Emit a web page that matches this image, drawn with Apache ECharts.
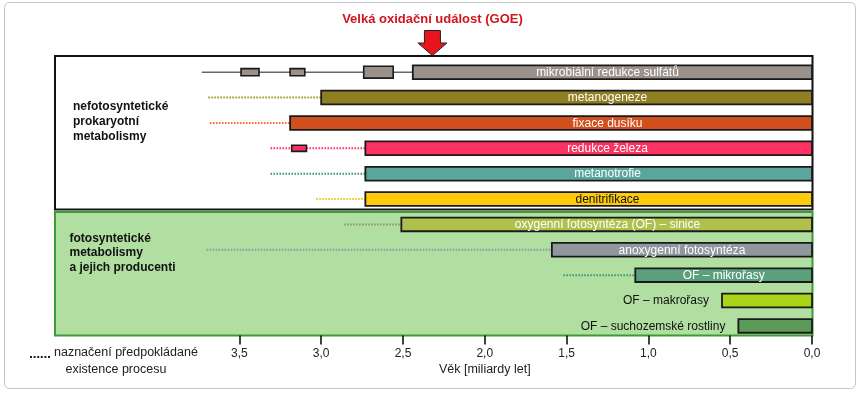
<!DOCTYPE html>
<html><head><meta charset="utf-8">
<script src="https://cdn.jsdelivr.net/npm/echarts@6/dist/echarts.min.js"></script>
<style>html,body{margin:0;padding:0;background:#fff}#c{width:860px;height:393px}</style>
</head><body><div id="c"></div>
<script>
// ---- data ----
const categories = ['mikrobiální redukce sulfátů','metanogeneze','fixace dusíku','redukce železa','metanotrofie','denitrifikace','oxygenní fotosyntéza (OF) – sinice','anoxygenní fotosyntéza','OF – mikrořasy','OF – makrořasy','OF – suchozemské rostliny'];
const barStart = [2.44, 3.0, 3.19, 2.73, 2.73, 2.73, 2.51, 1.59, 1.08, 0.55, 0.45];
const dottedFrom = [null, 3.69, 3.68, 3.31, 3.31, 3.03, 2.86, 3.70, 1.52, null, null];
const sulfateLineFrom = 3.73;
const sulfateBoxes = [[3.49, 3.38], [3.19, 3.10], [2.74, 2.56]];
const ironBox = [3.18, 3.09];
const GOE = 2.32;
const tickValues = [0, 0.5, 1, 1.5, 2, 2.5, 3, 3.5];
const axisMax = 4.627;
const groupTop = ['nefotosyntetické', 'prokaryotní', 'metabolismy'];
const groupBottom = ['fotosyntetické', 'metabolismy', 'a jejich producenti'];
const titleText = 'Velká oxidační událost (GOE)';
const axisTitle = 'Věk [miliardy let]';
const legendLines = ['naznačení předpokládané', 'existence procesu'];

// ---- styles ----
const barColors = ['#9a918b','#907e22','#d14f1c','#fc3262','#5ca59d','#fdcb0b','#afc14c','#8e989d','#5b9f7c','#a9d417','#5b9b57'];
const dotColors = [null,'#a09a2a','#ff6a33','#ff3366','#3c9a6c','#f8c81a','#8c9a5a','#8d9aa0','#3d9b6f',null,null];
const labelColors = ['#fff','#fff','#fff','#fff','#fff','#111','#fff','#fff','#fff','#111','#111'];
const labelMode = ['fixed','fixed','fixed','fixed','fixed','fixed','fixed','center','center','left','left'];
const LABEL_CENTER_VALUE = 1.25;
const SANS = "'Liberation Sans', Arial, sans-serif";

const chart = echarts.init(document.getElementById('c'), null, {renderer: 'canvas'});

const sulfateBoxHeights = [0.28, 0.28, 0.47];

chart.setOption({
  animation: false,
  grid: {left: 55, right: 48, top: 59.5, bottom: 54.4},
  xAxis: {
    type: 'value', min: 0, max: axisMax, inverse: true, position: 'bottom', offset: -3,
    axisLine: {show: false}, splitLine: {show: false},
    axisTick: {show: true, customValues: tickValues, length: 9, lineStyle: {color: '#111', width: 1.6}},
    axisLabel: {customValues: tickValues, formatter: v => v.toFixed(1).replace('.', ','), margin: 12,
      fontSize: 12, color: '#222', fontFamily: SANS}
  },
  yAxis: {type: 'category', data: categories, inverse: true, show: false},
  series: [
    { // dotted extensions
      type: 'custom', z: 3,
      data: categories.map((c, i) => [dottedFrom[i] == null ? barStart[i] : dottedFrom[i], i, barStart[i]]),
      encode: {x: 0, y: 1},
      renderItem(params, api) {
        const i = params.dataIndex;
        if (dottedFrom[i] == null) return null;
        const a = api.coord([api.value(0), api.value(1)]);
        const b = api.coord([api.value(2), api.value(1)]);
        return {type: 'line', shape: {x1: a[0], y1: a[1], x2: b[0], y2: b[1]},
          style: {stroke: dotColors[i], lineWidth: 2, lineDash: [1.6, 1.4]}};
      }
    },
    { // sulfate thin line
      type: 'custom', z: 3,
      data: [[sulfateLineFrom, 0, barStart[0]]],
      encode: {x: 0, y: 1},
      renderItem(params, api) {
        const a = api.coord([api.value(0), api.value(1)]);
        const b = api.coord([api.value(2), api.value(1)]);
        return {type: 'line', shape: {x1: a[0], y1: a[1], x2: b[0], y2: b[1]},
          style: {stroke: '#666', lineWidth: 1.5}};
      }
    },
    { // small range boxes
      type: 'custom', z: 4,
      data: sulfateBoxes.map(b => [b[0], 0, b[1]]).concat([[ironBox[0], 3, ironBox[1]]]),
      encode: {x: 0, y: 1},
      renderItem(params, api) {
        const i = params.dataIndex;
        const a = api.coord([api.value(0), api.value(1)]);
        const b = api.coord([api.value(2), api.value(1)]);
        const band = api.size([0, 1])[1];
        const isIron = i === 3;
        const h = band * (isIron ? 0.24 : sulfateBoxHeights[i]);
        return {type: 'rect', shape: {x: a[0], y: a[1] - h / 2, width: b[0] - a[0], height: h},
          style: {fill: isIron ? barColors[3] : barColors[0], stroke: '#1a1a1a', lineWidth: 1.6}};
      }
    },
    { // main bars
      type: 'custom', z: 5,
      data: categories.map((c, i) => [barStart[i], i]),
      encode: {x: 0, y: 1},
      renderItem(params, api) {
        const i = params.dataIndex;
        const row = api.value(1);
        const s = api.coord([api.value(0), row]);
        const e = api.coord([0, row]);
        const band = api.size([0, 1])[1];
        const h = band * 0.54;
        let tx, align = 'center';
        if (labelMode[i] === 'fixed') tx = api.coord([LABEL_CENTER_VALUE, row])[0];
        else if (labelMode[i] === 'center') tx = (s[0] + e[0]) / 2;
        else { tx = s[0] - 13; align = 'right'; }
        return {type: 'group', children: [
          {type: 'rect', shape: {x: s[0], y: s[1] - h / 2, width: e[0] - s[0], height: h},
            style: {fill: barColors[i], stroke: '#1a1a1a', lineWidth: 1.8}},
          {type: 'text', style: {text: categories[i], x: tx, y: s[1] + 0.5, align: align, verticalAlign: 'middle',
            fill: labelColors[i], font: '12px ' + SANS}}
        ]};
      }
    }
  ]
});

const gx = chart.convertToPixel({xAxisIndex: 0}, GOE);
const mid = chart.convertToPixel({xAxisIndex: 0}, 2.0);
const x0 = chart.convertToPixel({xAxisIndex: 0}, 0);
const xL = chart.convertToPixel({xAxisIndex: 0}, axisMax);

const textLines = (lines, x, y0, lh, font, fill) => lines.map((t, k) => ({
  type: 'text', silent: true, z: 10,
  style: {text: t, x: x, y: y0 + k * lh, font: font, fill: fill, verticalAlign: 'middle'}
}));

chart.setOption({
  graphic: [
    {type: 'rect', silent: true, z: 0, shape: {x: 4.5, y: 2.5, width: 851, height: 386, r: 5},
      style: {fill: 'none', stroke: '#c4c4c4', lineWidth: 1}},
    {type: 'rect', silent: true, z: 0, shape: {x: xL, y: 56, width: x0 - xL + 0.5, height: 153.5},
      style: {fill: '#fff', stroke: '#111', lineWidth: 2}},
    {type: 'rect', silent: true, z: 0, shape: {x: xL, y: 212, width: x0 - xL + 0.5, height: 123.5},
      style: {fill: '#b1dea1', stroke: '#3d9a38', lineWidth: 2}},
    ...textLines(groupTop, 73, 107, 15, 'bold 12px ' + SANS, '#111'),
    ...textLines(groupBottom, 69.5, 238.5, 14.5, 'bold 12px ' + SANS, '#111'),
    {type: 'text', silent: true, z: 10, style: {text: titleText, x: gx, y: 19, align: 'center', verticalAlign: 'middle',
      font: 'bold 13px ' + SANS, fill: '#d2141c'}},
    {type: 'polygon', silent: true, z: 10, shape: {points: [
      [gx - 8, 30.5], [gx + 8, 30.5], [gx + 8, 43], [gx + 14.5, 43], [gx, 55.5], [gx - 14.5, 43], [gx - 8, 43]]},
      style: {fill: '#e8141b', stroke: '#222', lineWidth: 1}},
    {type: 'text', silent: true, z: 10, style: {text: axisTitle, x: mid, y: 370, align: 'center', verticalAlign: 'middle',
      font: '12.5px ' + SANS, fill: '#222'}},
    {type: 'line', silent: true, z: 10, shape: {x1: 30, y1: 357, x2: 51.5, y2: 357},
      style: {stroke: '#222', lineWidth: 2.2, lineDash: [2, 1.6]}},
    {type: 'text', silent: true, z: 10, style: {text: legendLines[0], x: 54, y: 353, verticalAlign: 'middle',
      font: '12.5px ' + SANS, fill: '#222'}},
    {type: 'text', silent: true, z: 10, style: {text: legendLines[1], x: 116, y: 370, align: 'center', verticalAlign: 'middle',
      font: '12.5px ' + SANS, fill: '#222'}}
  ]
});
</script></body></html>
